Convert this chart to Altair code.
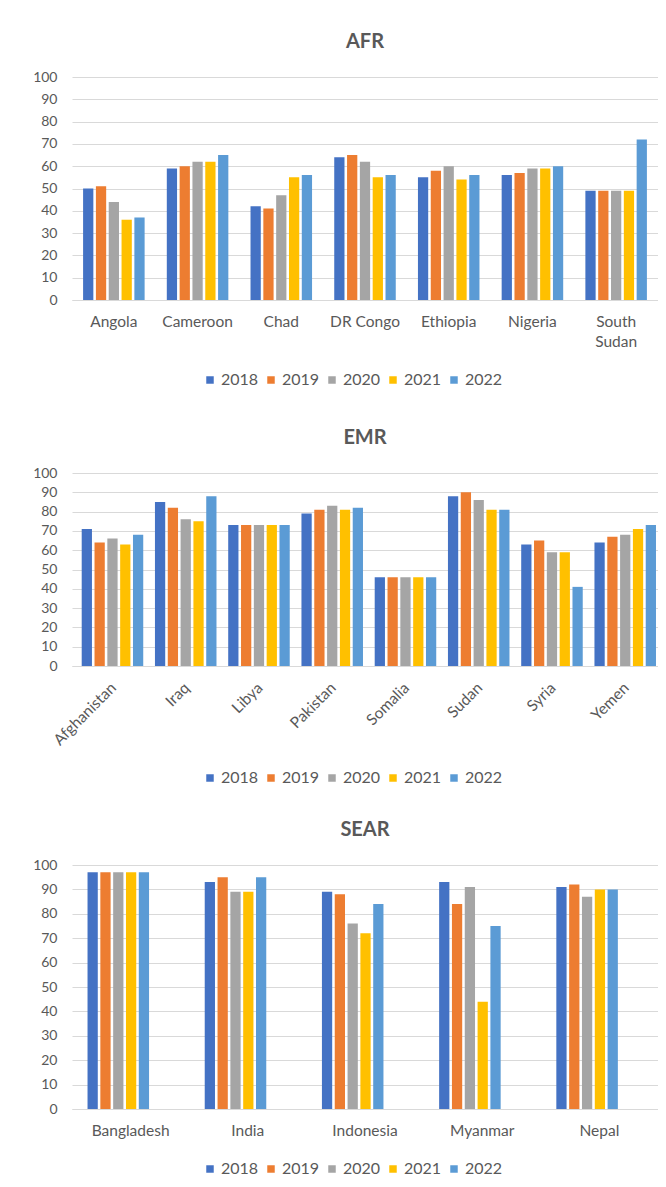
import altair as alt
import pandas as pd

years = ["2018", "2019", "2020", "2021", "2022"]
year_colors = ["#4472C4", "#ED7D31", "#A5A5A5", "#FFC000", "#5B9BD5"]

# AFR
afr_countries = ["Angola", "Cameroon", "Chad", "DR Congo", "Ethiopia", "Nigeria", "South Sudan"]
afr_2018 = [50, 59, 42, 64, 55, 56, 49]
afr_2019 = [51, 60, 41, 65, 58, 57, 49]
afr_2020 = [44, 62, 47, 62, 60, 59, 49]
afr_2021 = [36, 62, 55, 55, 54, 59, 49]
afr_2022 = [37, 65, 56, 56, 56, 60, 72]

# EMR
emr_countries = ["Afghanistan", "Iraq", "Libya", "Pakistan", "Somalia", "Sudan", "Syria", "Yemen"]
emr_2018 = [71, 85, 73, 79, 46, 88, 63, 64]
emr_2019 = [64, 82, 73, 81, 46, 90, 65, 67]
emr_2020 = [66, 76, 73, 83, 46, 86, 59, 68]
emr_2021 = [63, 75, 73, 81, 46, 81, 59, 71]
emr_2022 = [68, 88, 73, 82, 46, 81, 41, 73]

# SEAR
sear_countries = ["Bangladesh", "India", "Indonesia", "Myanmar", "Nepal"]
sear_2018 = [97, 93, 89, 93, 91]
sear_2019 = [97, 95, 88, 84, 92]
sear_2020 = [97, 89, 76, 91, 87]
sear_2021 = [97, 89, 72, 44, 90]
sear_2022 = [97, 95, 84, 75, 90]

y_ticks = list(range(0, 101, 10))

FONT = "Lato"
TXT = "#595959"
GRID = "#D9D9D9"


def long_table(countries, series):
    rows = []
    for yr, vals in zip(years, series):
        for c, v in zip(countries, vals):
            rows.append({"country": c, "year": yr, "value": v})
    return pd.DataFrame(rows)


def panel(title, countries, series, height, legend_y, bottom_gap, angle=0):
    df = long_table(countries, series)
    common = dict(
        title=" ", titleFontSize=1, titleY=bottom_gap - 1, titleBaseline="top",
        ticks=False, tickSize=0, domain=True, domainColor=GRID,
        domainWidth=1, grid=False, labelFont=FONT, labelFontSize=15.5,
        labelColor=TXT, labelAngle=angle, labelOverlap=False,
    )
    if angle == 0:
        x_axis = alt.Axis(
            labelPadding=14, labelLineHeight=20,
            labelExpr="datum.value == 'South Sudan' ? ['South', 'Sudan'] : datum.value",
            **common,
        )
    else:
        x_axis = alt.Axis(labelPadding=14, labelAlign="right", labelBaseline="top",
                          **common)
    chart = alt.Chart(df).mark_bar().encode(
        x=alt.X("country:N", sort=countries, axis=x_axis,
                scale=alt.Scale(paddingInner=0.265, paddingOuter=0.1325)),
        xOffset=alt.XOffset("year:N", sort=years,
                            scale=alt.Scale(paddingInner=0.2, paddingOuter=0)),
        y=alt.Y("value:Q", scale=alt.Scale(domain=[0, 100], nice=False),
                axis=alt.Axis(title=None, values=y_ticks, domain=False, ticks=False,
                              tickSize=0, grid=True, gridColor=GRID, gridWidth=1,
                              labelFont=FONT, labelFontSize=14, labelColor=TXT,
                              labelPadding=15)),
        color=alt.Color("year:N", sort=years,
                        scale=alt.Scale(domain=years, range=year_colors),
                        legend=alt.Legend(title=None, orient="none", direction="horizontal",
                                          legendX=130, legendY=legend_y,
                                          padding=0,
                                          symbolType="square", symbolSize=56,
                                          symbolStrokeWidth=0, labelFont=FONT,
                                          labelFontSize=16, labelColor=TXT,
                                          labelOffset=3, columnPadding=4)),
    ).properties(
        width=586, height=height,
        title=alt.TitleParams(title, font=FONT, fontSize=20, fontWeight="bold",
                              color=TXT, anchor="middle", offset=18),
    )
    return chart


afr = panel("AFR", afr_countries, [afr_2018, afr_2019, afr_2020, afr_2021, afr_2022],
            223, 295, 94)
emr = panel("EMR", emr_countries, [emr_2018, emr_2019, emr_2020, emr_2021, emr_2022],
            193, 297, 119, angle=-45)
sear = panel("SEAR", sear_countries, [sear_2018, sear_2019, sear_2020, sear_2021, sear_2022],
             244, 296, 66)

chart = alt.vconcat(afr, emr, sear, spacing=34).resolve_scale(
    color="independent"
).resolve_legend(color="independent").properties(
    padding={"left": 24, "top": 24, "right": 0, "bottom": 0},
    background="white",
).configure_view(stroke=None)

chart.save("out.html", embed_options={"renderer": "svg", "actions": False})
